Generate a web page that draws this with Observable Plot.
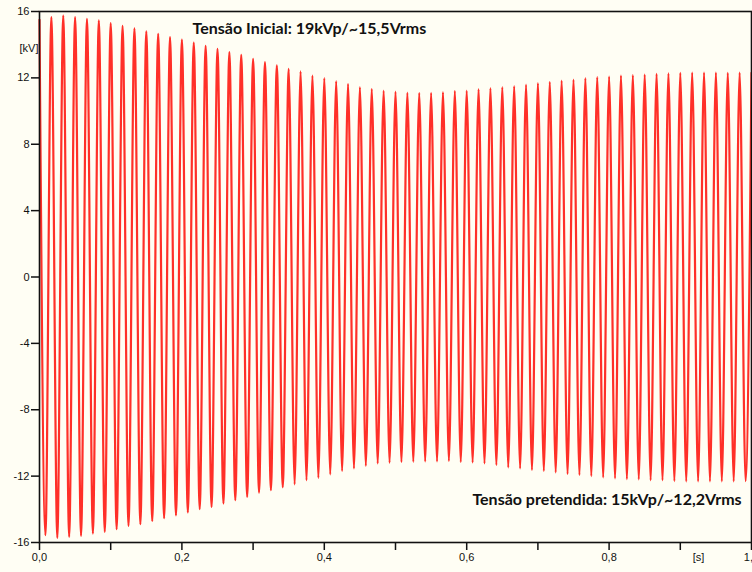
<!DOCTYPE html>
<html>
<head>
<meta charset="utf-8">
<script src="https://cdn.jsdelivr.net/npm/d3@7"></script>
<script src="https://cdn.jsdelivr.net/npm/@observablehq/plot@0.6"></script>
<style>
  html, body { margin: 0; padding: 0; background: #fffef4; overflow: hidden; }
  #chart svg { display: block; }
</style>
</head>
<body>
<div id="chart"></div>
<script>
// Signal frequency (Hz) – one peak and one trough per cycle
const FREQ = 60;

// Positive peak values per cycle (kV), t = 0 … 1 s
const peaks = [
  15.5, 15.66, 15.76, 15.66, 15.56, 15.46, 15.3, 15.14, 14.98, 14.81,
  14.66, 14.45, 14.3, 14.13, 13.93, 13.75, 13.55, 13.39, 13.15, 12.95,
  12.75, 12.55, 12.39, 12.14, 11.98, 11.8, 11.64, 11.44, 11.34, 11.24,
  11.18, 11.12, 11.1, 11.1, 11.14, 11.22, 11.24, 11.32, 11.38, 11.44,
  11.5, 11.6, 11.68, 11.76, 11.84, 11.9, 11.98, 12.04, 12.08, 12.13,
  12.16, 12.2, 12.24, 12.28, 12.3, 12.32, 12.32, 12.32, 12.3, 12.32,
  12.3
];

// Negative trough values per cycle (kV)
const troughs = [
  -15.56, -15.72, -15.66, -15.6, -15.46, -15.36, -15.2, -15.0, -14.9, -14.72,
  -14.54, -14.37, -14.19, -13.99, -13.86, -13.65, -13.45, -13.25, -13.0, -12.85,
  -12.67, -12.5, -12.25, -12.1, -11.9, -11.7, -11.54, -11.39, -11.24, -11.2,
  -11.16, -11.14, -11.12, -11.12, -11.1, -11.16, -11.18, -11.24, -11.34, -11.48,
  -11.54, -11.64, -11.7, -11.78, -11.88, -11.94, -12.0, -12.08, -12.14, -12.18,
  -12.2, -12.25, -12.25, -12.3, -12.32, -12.32, -12.32, -12.32, -12.32, -12.3
];

// Axis ticks
const yTickValues = [-16, -12, -8, -4, 0, 4, 8, 12, 16];
const yTickLabels = ["-16", "-12", "-8", "-4", "0", "4", "8", "12", "16"];
const xTickValues = [0, 0.1, 0.2, 0.3, 0.4, 0.5, 0.6, 0.7, 0.8, 0.9, 1.0];
const xTickLabels = ["0,0", "", "0,2", "", "0,4", "", "0,6", "", "0,8", "", "1,0"];

// Annotations (data units: time in s, voltage in kV)
const notes = [
  {label: "Tensão Inicial: 19kVp/~15,5Vrms", t: 0.215, v: 14.98},
  {label: "Tensão pretendida: 15kVp/~12,2Vrms", t: 0.608, v: -13.45}
];

// Build extrema sequence (peak, trough, peak, ...)
const pts = [];
peaks.forEach((v, i) => {
  pts.push({t: i / FREQ, v});
  if (i < troughs.length) pts.push({t: (i + 0.5) / FREQ, v: troughs[i]});
});

const chart = Plot.plot({
  width: 752,
  height: 572,
  marginLeft: 39,
  marginRight: 1,
  marginTop: 11,
  marginBottom: 30,
  style: {background: "#fffef4", fontFamily: "'Liberation Sans', Arial, sans-serif", fontSize: "11px", color: "#111", overflow: "visible"},
  x: {domain: [0, 1]},
  y: {domain: [-16, 16]},
  marks: [
    Plot.line(pts, {x: "t", y: "v", stroke: "#ff3028", strokeWidth: 2.2, curve: "monotone-x"}),
    Plot.axisY({ticks: yTickValues, tickSize: 8, tickPadding: 2, tickFormat: d => yTickLabels[yTickValues.indexOf(d)], label: null, stroke: "#111", strokeWidth: 1.5}),
    Plot.axisX({ticks: xTickValues, tickSize: 8, tickPadding: 3, tickFormat: d => xTickLabels[xTickValues.findIndex(x => Math.abs(x - d) < 1e-9)], label: null, stroke: "#111", strokeWidth: 1.5}),
    Plot.frame({stroke: "#111", strokeWidth: 1.6}),
    Plot.text(notes, {x: "t", y: "v", text: "label", textAnchor: "start", fontFamily: "Lato, 'Open Sans', sans-serif", fontWeight: "bold", fontSize: 16, fill: "#111"}),
    Plot.text(["[kV]"], {frameAnchor: "top-left", dx: -1, dy: 33, textAnchor: "end", fill: "#111"}),
    Plot.text(["[s]"], {frameAnchor: "bottom-right", dx: -53, dy: 18, textAnchor: "middle", fill: "#111"})
  ]
});

document.getElementById("chart").appendChild(chart);
</script>
</body>
</html>
